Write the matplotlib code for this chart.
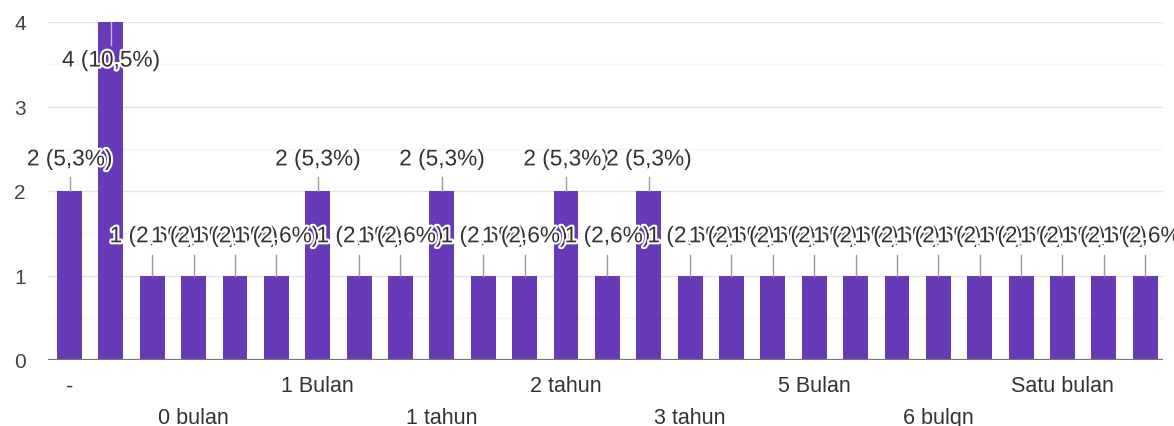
import matplotlib.pyplot as plt
import matplotlib.patheffects as pe
import numpy as np

# counts per answer (only 27 of the bars are visible in the crop)
values = [2, 4, 1, 1, 1, 1, 2, 1, 1, 2, 1, 1, 2, 1, 2,
          1, 1, 1, 1, 1, 1, 1, 1, 1, 1, 1, 1]
total = 38
row1_pos = [0, 6, 12, 18, 24]
row1_labels = ['-', '1 Bulan', '2 tahun', '5 Bulan', 'Satu bulan']
row2_pos = [3, 9, 15, 21]
row2_labels = ['0 bulan', '1 tahun', '3 tahun', '6 bulqn']

plt.rcParams['font.family'] = ['Liberation Sans', 'DejaVu Sans']
purple = '#673ab7'
txt = '#333333'

fig = plt.figure(figsize=(11.74, 4.27), dpi=100)
ax = fig.add_axes([48/1174, 66/427, (1163-48)/1174, 338/427])

x = np.arange(len(values))
ax.bar(x, values, width=0.6, color=purple, zorder=3)

ax.set_xlim(-0.52, 26.43)
ax.set_ylim(0, 4)
ax.set_yticks([0, 1, 2, 3, 4])
ax.set_yticks([0.5, 1.5, 2.5, 3.5], minor=True)
ax.grid(axis='y', which='major', color='#e3e3e3', lw=1, zorder=0)
ax.grid(axis='y', which='minor', color='#f3f3f3', lw=1, zorder=0)
ax.tick_params(axis='y', which='both', length=0, pad=16, labelsize=15, labelcolor='#444444')
for s in ax.spines.values():
    s.set_visible(False)
ax.axhline(0, color='#777777', lw=1.6, zorder=4)

ax.set_xticks(row1_pos, row1_labels)
ax.set_xticks(row2_pos, row2_labels, minor=True)
ax.tick_params(axis='x', which='major', length=0, pad=11, labelsize=15.5, labelcolor=txt)
ax.tick_params(axis='x', which='minor', length=0, pad=34, labelsize=15.5, labelcolor=txt)

halo = [pe.withStroke(linewidth=3, foreground='white')]
for i, v in enumerate(values):
    lab = f"{v} ({v / total * 100:.1f}%)".replace('.', ',')
    if v >= 4:
        ax.plot([i, i], [v, v - 0.27], color='#c9b8e8', lw=1, zorder=5)
        ax.text(i, v - 0.45, lab, ha='center', va='center', fontsize=16.3,
                color=txt, path_effects=halo, zorder=6)
    elif v == 1:
        ax.plot([i, i], [v, v + 0.24], color='#999999', lw=1, zorder=5)
        ax.text(i, v + 0.47, lab, ha='center', va='center', fontsize=16.3,
                color=txt, path_effects=halo, zorder=6)
    else:
        ax.plot([i, i], [v, v + 0.16], color='#999999', lw=1, zorder=5)
        ax.text(i, v + 0.38, lab, ha='center', va='center', fontsize=16.3,
                color=txt, path_effects=halo, zorder=6)

fig.savefig('out.png', dpi=100, facecolor='white')
